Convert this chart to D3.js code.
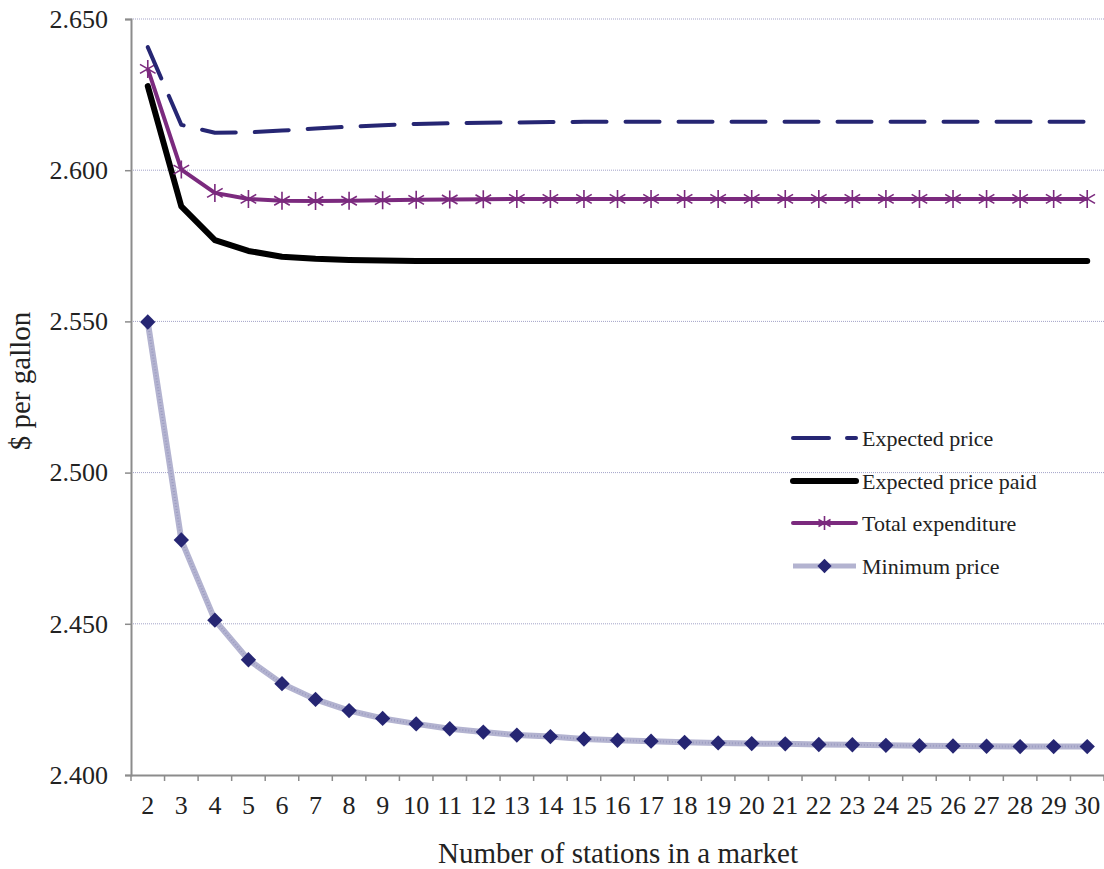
<!DOCTYPE html>
<html><head><meta charset="utf-8">
<script src="https://cdn.jsdelivr.net/npm/d3@7"></script>
<style>
body{margin:0;background:#fff;}
svg text{font-family:"Liberation Serif","Tinos","Times New Roman","DejaVu Serif","Noto Serif",serif !important;fill:#222;}
</style></head>
<body><svg id="chart" width="1104" height="869"></svg>
<script>
const stations = [2,3,4,5,6,7,8,9,10,11,12,13,14,15,16,17,18,19,20,21,22,23,24,25,26,27,28,29,30];
const expectedPrice = [2.6407,2.6150,2.6124,2.6125,2.6131,2.6138,2.6144,2.6149,2.6153,2.6155,2.6157,2.6158,2.6159,2.6160,2.6160,2.6160,2.6160,2.6160,2.6160,2.6160,2.6160,2.6160,2.6160,2.6160,2.6160,2.6160,2.6160,2.6160,2.6160];
const expectedPricePaid = [2.6278,2.5880,2.5769,2.5733,2.5714,2.5707,2.5703,2.5701,2.5700,2.5700,2.5700,2.5700,2.5700,2.5700,2.5700,2.5700,2.5700,2.5700,2.5700,2.5700,2.5700,2.5700,2.5700,2.5700,2.5700,2.5700,2.5700,2.5700,2.5700];
const totalExpenditure = [2.6335,2.6002,2.5925,2.5905,2.5899,2.5898,2.5899,2.5901,2.5902,2.5903,2.5904,2.5905,2.5905,2.5905,2.5905,2.5905,2.5905,2.5905,2.5905,2.5905,2.5905,2.5905,2.5905,2.5905,2.5905,2.5905,2.5905,2.5905,2.5905];
const minimumPrice = [2.5498,2.4777,2.4512,2.4381,2.4302,2.4250,2.4213,2.4187,2.4169,2.4153,2.4142,2.4132,2.4127,2.4119,2.4115,2.4112,2.4108,2.4106,2.4104,2.4103,2.4101,2.4100,2.4098,2.4097,2.4096,2.4095,2.4094,2.4094,2.4094];
const yTicks = [2.400,2.450,2.500,2.550,2.600,2.650];
const seriesNames = ["Expected price","Expected price paid","Total expenditure","Minimum price"];

const FONT = '"Liberation Serif","Tinos","Times New Roman","DejaVu Serif","Noto Serif",serif';
const svg = d3.select("#chart");
const L = 131, R = 1104, T = 19, B = 775;
const x = d3.scaleBand().domain(stations).range([L, R]).padding(0);
const y = d3.scaleLinear().domain([2.4, 2.65]).range([B, T]);
const cx = d => x(d) + x.bandwidth()/2;

const navy = "#262673", purple = "#7b2a7e", axisCol = "#8c8c8c";

// gridlines
svg.append("g").selectAll("line").data(yTicks.filter(v => v > 2.4)).join("line")
  .attr("x1", L).attr("x2", R).attr("y1", d => y(d)).attr("y2", d => y(d))
  .attr("stroke", "#a3a3c8").attr("stroke-width", 1).attr("stroke-dasharray", "1,1");

// y axis
const ya = svg.append("g").attr("transform", `translate(${L},0)`)
  .call(d3.axisLeft(y).tickValues(yTicks).tickFormat(d3.format(".3f")).tickSize(6).tickPadding(17));
ya.attr("font-family", FONT);
ya.select(".domain").attr("stroke", axisCol).attr("stroke-width", 2);
ya.selectAll(".tick line").attr("stroke", axisCol).attr("stroke-width", 1.5);
ya.selectAll("text").style("font-size", "26px").attr("fill", "#222");

// x axis
const xa = svg.append("g").attr("transform", `translate(0,${B})`)
  .call(d3.axisBottom(x).tickSize(0).tickPadding(21));
xa.attr("font-family", FONT);
xa.select(".domain").attr("stroke", axisCol).attr("stroke-width", 2);
xa.selectAll("text").style("font-size", "26px").attr("fill", "#222");
xa.append("g").selectAll("line").data(stations.concat([null])).join("line")
  .attr("x1", (d,i) => L + i*x.bandwidth()).attr("x2", (d,i) => L + i*x.bandwidth())
  .attr("y1", 0).attr("y2", 6).attr("stroke", axisCol).attr("stroke-width", 1.5);

// axis titles
svg.append("text").attr("x", 618).attr("y", 863).attr("text-anchor", "middle")
  .style("font-size", "29px").text("Number of stations in a market");
svg.append("text").attr("transform", `translate(30,381) rotate(-90)`).attr("text-anchor", "middle")
  .style("font-size", "29px").text("$ per gallon");

const line = d3.line().x((d,i) => cx(stations[i])).y(d => y(d));
const plot = svg.append("g");

// Minimum price
plot.append("path").datum(minimumPrice).attr("d", line).attr("fill", "none")
  .attr("stroke", "#b3b3d0").attr("stroke-width", 6).attr("stroke-linejoin", "round");
plot.append("path").datum(minimumPrice).attr("d", line).attr("fill", "none")
  .attr("stroke", "#9d9dc2").attr("stroke-width", 2).attr("stroke-dasharray", "1,2");
const diamond = d3.symbol().type(d3.symbolDiamond2).size(150);
plot.append("g").selectAll("path").data(minimumPrice).join("path")
  .attr("d", diamond).attr("transform", (d,i) => `translate(${cx(stations[i])},${y(d)})`)
  .attr("fill", navy);

// Expected price paid
plot.append("path").datum(expectedPricePaid).attr("d", line).attr("fill", "none")
  .attr("stroke", "#000").attr("stroke-width", 6).attr("stroke-linecap", "round").attr("stroke-linejoin", "round");

// Total expenditure
plot.append("path").datum(totalExpenditure).attr("d", line).attr("fill", "none")
  .attr("stroke", purple).attr("stroke-width", 4).attr("stroke-linejoin", "round");
const star = s => `M0,${-s}V${s}M${-s*0.866},${-s*0.5}L${s*0.866},${s*0.5}M${-s*0.866},${s*0.5}L${s*0.866},${-s*0.5}`;
plot.append("g").selectAll("path").data(totalExpenditure).join("path")
  .attr("d", star(9)).attr("transform", (d,i) => `translate(${cx(stations[i])},${y(d)})`)
  .attr("stroke", purple).attr("stroke-width", 1.6).attr("fill", "none");

// Expected price
plot.append("path").datum(expectedPrice).attr("d", line).attr("fill", "none")
  .attr("stroke", navy).attr("stroke-width", 4).attr("stroke-dasharray", "34,19")
  .attr("stroke-linecap", "round").attr("stroke-linejoin", "round");

// legend
const lg = svg.append("g");
const rows = [438, 481, 523, 566];
const lx1 = 793, lx2 = 856, tx = 862;
seriesNames.forEach((n, i) => {
  lg.append("text").attr("x", tx).attr("y", rows[i]).attr("dy", "0.35em").style("font-size", "22px").text(n);
});
lg.append("line").attr("x1", lx1).attr("x2", 829).attr("y1", rows[0]).attr("y2", rows[0])
  .attr("stroke", navy).attr("stroke-width", 4).attr("stroke-linecap", "round");
lg.append("line").attr("x1", 847).attr("x2", lx2).attr("y1", rows[0]).attr("y2", rows[0])
  .attr("stroke", navy).attr("stroke-width", 4).attr("stroke-linecap", "round");
lg.append("line").attr("x1", lx1).attr("x2", lx2).attr("y1", rows[1]).attr("y2", rows[1])
  .attr("stroke", "#000").attr("stroke-width", 6).attr("stroke-linecap", "round");
lg.append("line").attr("x1", lx1).attr("x2", lx2).attr("y1", rows[2]).attr("y2", rows[2])
  .attr("stroke", purple).attr("stroke-width", 4).attr("stroke-linecap", "round");
lg.append("path").attr("d", star(7)).attr("transform", `translate(${(lx1+lx2)/2},${rows[2]})`)
  .attr("stroke", purple).attr("stroke-width", 1.6).attr("fill", "none");
lg.append("line").attr("x1", lx1).attr("x2", lx2).attr("y1", rows[3]).attr("y2", rows[3])
  .attr("stroke", "#b3b3d0").attr("stroke-width", 5);
lg.append("path").attr("d", d3.symbol().type(d3.symbolDiamond2).size(130)).attr("transform", `translate(${(lx1+lx2)/2},${rows[3]})`)
  .attr("fill", navy);
</script></body></html>
